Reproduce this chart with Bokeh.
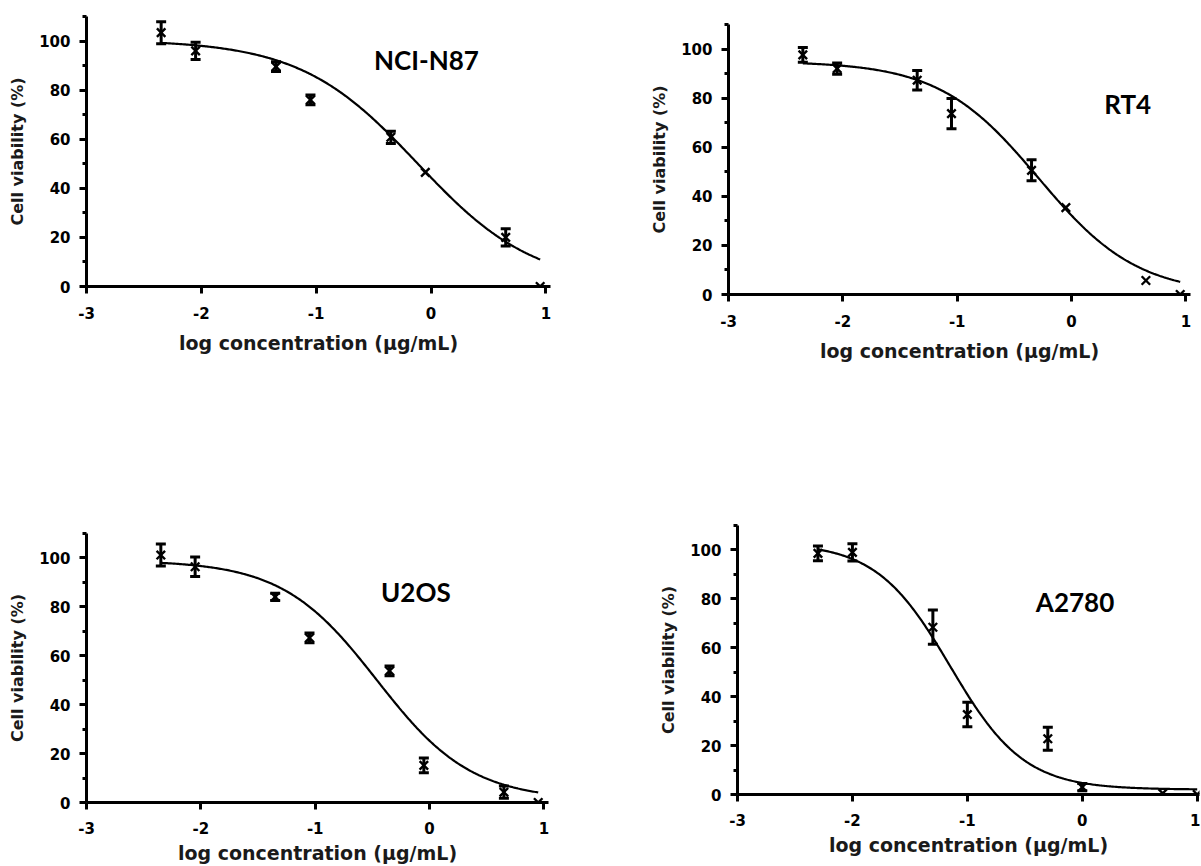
import numpy as np
from bokeh.plotting import figure
from bokeh.models import Range1d, FixedTicker, Whisker, ColumnDataSource, TeeHead, Spacer
from bokeh.layouts import column, row
from bokeh.core.properties import value
from bokeh.embed import file_html
from bokeh.resources import INLINE

# ---------------- data ----------------
x_log_a = [-2.35, -2.05, -1.35, -1.05, -0.35, -0.05, 0.65, 0.95]
x_log_b = [-2.30, -2.00, -1.30, -1.00, -0.30, 0.00, 0.70, 1.00]

n87_y = [103.4, 96.0, 89.6, 76.0, 60.8, 46.5, 20.0, 0.0]
n87_err = [4.5, 3.5, 2.0, 2.0, 2.5, 0.0, 3.5, 0.0]
n87_fit = [100.5, 0.0, -0.12, 0.85]      # top, bottom, logIC50, hill

rt4_y = [97.6, 92.0, 87.3, 73.7, 50.6, 35.4, 5.7, 0.0]
rt4_err = [3.0, 2.3, 4.0, 6.2, 4.3, 0.0, 0.0, 0.0]
rt4_fit = [95.0, 0.0, -0.29, 1.0]

u2os_y = [101.2, 96.4, 84.1, 67.3, 53.8, 15.2, 4.2, 0.0]
u2os_err = [4.5, 4.0, 1.5, 2.0, 2.0, 3.0, 2.5, 0.0]
u2os_fit = [99.0, 1.0, -0.46, 1.05]

a2780_y = [98.6, 99.0, 68.4, 32.7, 22.8, 3.0, 0.5, 0.0]
a2780_err = [3.0, 3.5, 7.0, 5.0, 4.7, 1.5, 0.0, 0.0]
a2780_fit = [103.0, 2.0, -1.15, 1.35]

x_ticks = [-3, -2, -1, 0, 1]
x_tick_labels = ["-3", "-2", "-1", "0", "1"]
y_ticks = [0, 20, 40, 60, 80, 100]
y_minor = [10, 30, 50, 70, 90, 110]

x_title = "log concentration (µg/mL)"
y_title = "Cell viability (%)"

FONT = "DejaVu Sans"


def panel(xs, ys, errs, fit, name, lab_xy, geo, x_end, lab_so, tit_so):
    left, right, top, bottom, fw, fh = geo
    p = figure(frame_width=fw, frame_height=fh,
               min_border_left=left, min_border_right=right,
               min_border_top=top, min_border_bottom=bottom,
               x_range=Range1d(-3, x_end), y_range=Range1d(0, 110),
               output_backend="svg", toolbar_location=None,
               background_fill_color="white", border_fill_color="white")
    p.outline_line_color = None
    p.grid.visible = False

    # fitted curve (4-parameter logistic with parameters)
    top_v, bot_v, c, h = fit
    xf = np.linspace(xs[0], xs[-1], 300)
    yf = bot_v + (top_v - bot_v) / (1 + 10 ** ((xf - c) * h))
    p.line(xf, yf, line_color="black", line_width=2.2)

    # error bars
    sel = [i for i in range(len(xs)) if errs[i] > 0]
    src = ColumnDataSource(dict(
        base=[xs[i] for i in sel],
        upper=[ys[i] + errs[i] for i in sel],
        lower=[ys[i] - errs[i] for i in sel]))
    w = Whisker(source=src, base="base", upper="upper", lower="lower",
                line_color="black", line_width=3,
                upper_head=TeeHead(size=10, line_width=3, line_color="black"),
                lower_head=TeeHead(size=10, line_width=3, line_color="black"))
    p.add_layout(w)

    p.scatter(xs, ys, marker="x", size=12, line_color="black", line_width=2.4)

    p.text(x=[lab_xy[0]], y=[lab_xy[1]], text=[name],
           text_font=value("Lato"), text_font_style="bold",
           text_font_size="26px", text_align="center",
           text_baseline="middle", text_color="black")

    for ax in (p.xaxis[0], p.yaxis[0]):
        ax.axis_line_width = 3
        ax.axis_line_color = "black"
        ax.major_tick_line_width = 3
        ax.minor_tick_line_width = 3
        ax.major_tick_line_color = "black"
        ax.minor_tick_line_color = "black"
        ax.major_tick_out = 7
        ax.major_tick_in = 0
        ax.minor_tick_out = 4
        ax.minor_tick_in = 0
        ax.major_label_text_font = FONT
        ax.major_label_text_font_style = "bold"
        ax.major_label_text_font_size = "15px"
        ax.major_label_text_color = "black"
        ax.axis_label_text_font = FONT
        ax.axis_label_text_font_style = "bold"
        ax.axis_label_text_color = "#1a1a1a"

    xa = p.xaxis[0]
    xa.ticker = FixedTicker(ticks=x_ticks, minor_ticks=[])
    xa.major_label_overrides = {t: s for t, s in zip(x_ticks, x_tick_labels)}
    xa.axis_label = x_title
    xa.axis_label_text_font_size = "19px"
    xa.major_label_standoff = lab_so
    xa.axis_label_standoff = tit_so

    ya = p.yaxis[0]
    ya.ticker = FixedTicker(ticks=y_ticks, minor_ticks=y_minor)
    ya.axis_label = y_title
    ya.axis_label_text_font_size = "16px"
    ya.major_label_standoff = 9
    ya.axis_label_standoff = 9
    return p


# geometry: (left, right, top, bottom, frame_width, frame_height)
f1 = panel(x_log_a, n87_y, n87_err, n87_fit, "NCI-N87", (-0.04, 92.3),
           (86, 90, 16, 206, 464, 270), 1.04, 13, 10)
f2 = panel(x_log_a, rt4_y, rt4_err, rt4_fit, "RT4", (0.49, 77.6),
           (88, 10, 16, 206, 462, 270), 1.04, 13, 10)
f3 = panel(x_log_a, u2os_y, u2os_err, u2os_fit, "U2OS", (-0.12, 85.9),
           (86, 92, 25, 64, 462, 269), 1.04, 12, 5)
f4 = panel(x_log_b, a2780_y, a2780_err, a2780_fit, "A2780", (-0.063, 78.6),
           (97, 1, 25, 64, 462, 269), 1.02, 12, 5)

layout = column(
    row(column(f1, Spacer(width=640, height=8)),
        column(Spacer(width=560, height=8), f2)),
    row(column(Spacer(width=640, height=8), f3),
        column(f4, Spacer(width=560, height=8))),
)
open("out.html", "w").write(file_html(layout, INLINE))
